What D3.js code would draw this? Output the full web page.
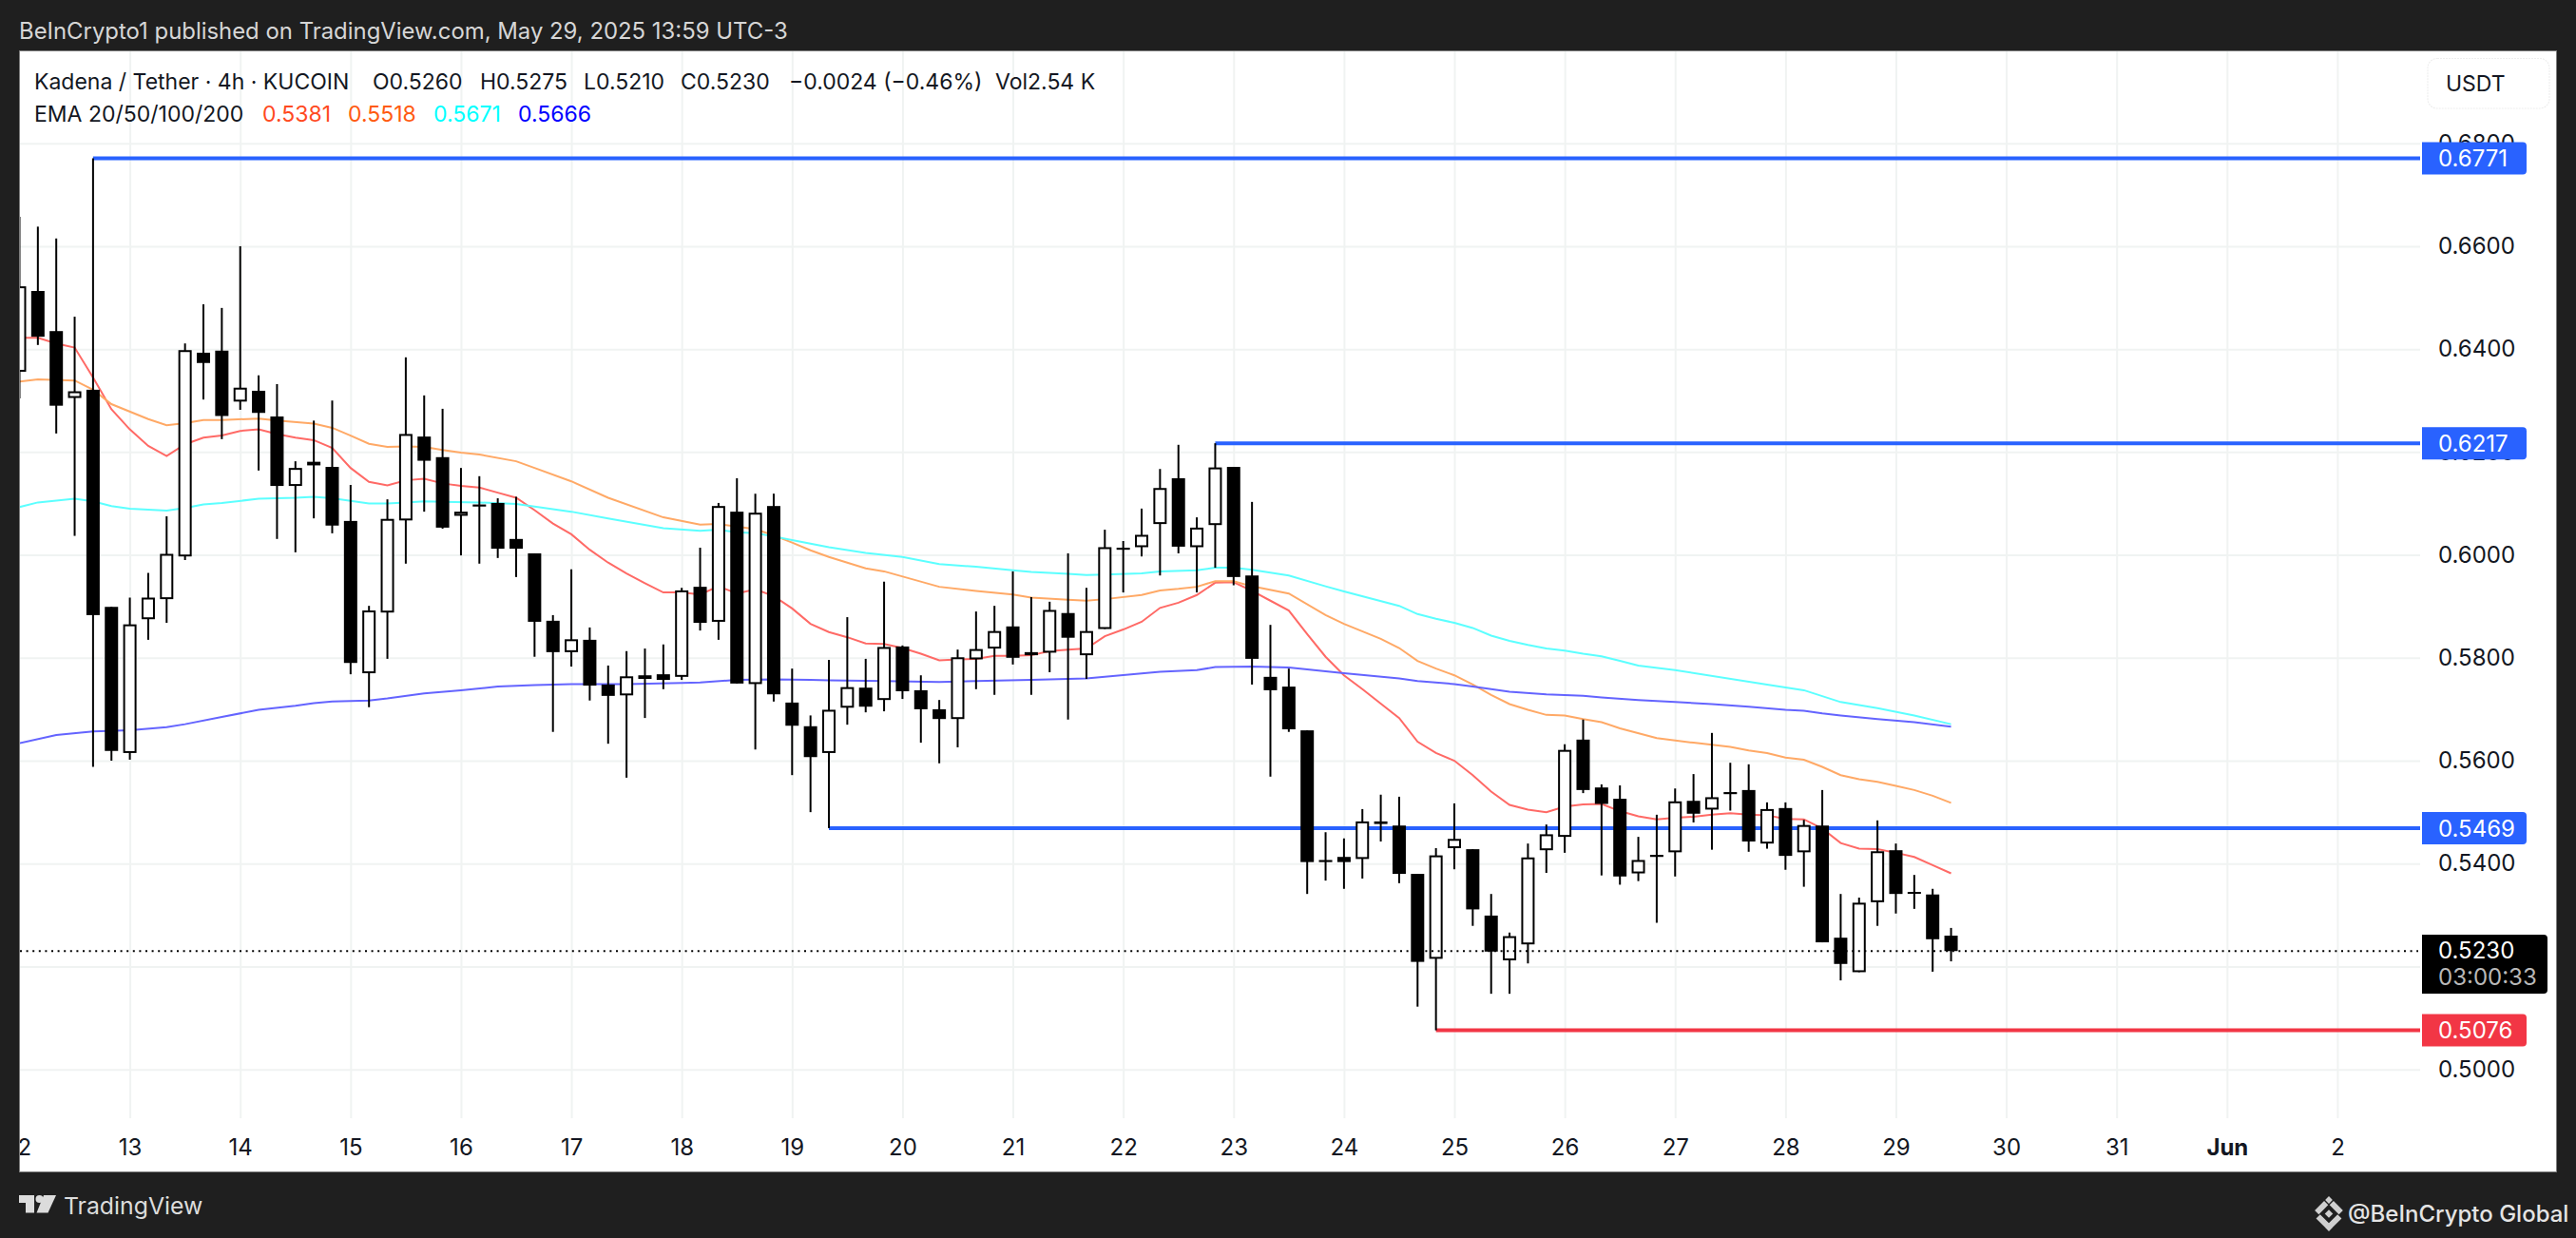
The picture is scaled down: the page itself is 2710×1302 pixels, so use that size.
<!DOCTYPE html>
<html><head><meta charset="utf-8">
<script src="https://cdn.jsdelivr.net/npm/d3@7/dist/d3.min.js"></script>
<style>html,body{margin:0;padding:0;background:#1f1f1f;overflow:hidden}svg{display:block}text{font-family:Inter,"Noto Sans",sans-serif}</style>
</head><body><svg id="c" width="2710" height="1302"></svg>
<script>
// Candles from index -6 (12 May 00:00) to 99; six 4h candles per day
const firstIndex = -6;
const highs = [.6657,.6638,.6615,.6463,.6771,.5899,.5917,.5965,.6075,.6411,.6487,.6480,.6600,.6349,.6332,.6182,.6261,.6300,.6136,.5901,.6108,.6384,
.6310,.6284,.6169,.6153,.6110,.6113,.6003,.5883,.5972,.5859,.5785,.5813,.5818,.5826,.5936,.6014,.6101,.6149,.6119,.6119,.5779,.5688,.5796,
.5879,.5798,.5948,.5824,.5766,.5718,.5816,.5890,.5901,.5968,.5918,.5909,.6003,.5936,.6049,.6027,.6090,.6167,.6214,.6073,.6217,.6171,.6103,.5864,.5779,
.5659,.5461,.5449,.5506,.5534,.5530,.5380,.5430,.5517,.5428,.5341,.5266,.5439,.5476,.5632,.5680,.5554,.5552,.5452,.5495,.5546,.5574,.5654,.5596,.5593,.5519,.5519,.5485,.5543,.5341,.5334,.5484,.5439,.5378,.5351,.5275];
const lows = [.6304,.6408,.6236,.6037,.5588,.5600,.5602,.5835,.5868,.5990,.6302,.6225,.6282,.6164,.6031,.6005,.6071,.6042,.5768,.5704,.5798,.5983,
.6084,.6051,.5999,.5983,.5994,.5957,.5802,.5656,.5783,.5717,.5633,.5567,.5683,.5739,.5757,.5853,.5835,.5750,.5622,.5715,.5572,.5500,.5469,
.5670,.5694,.5696,.5720,.5635,.5595,.5626,.5739,.5728,.5787,.5728,.5772,.5680,.5759,.5856,.5927,.5997,.5960,.6003,.5927,.5975,.5941,.5748,.5569,.5656,
.5341,.5367,.5351,.5371,.5443,.5362,.5122,.5076,.5389,.5279,.5147,.5147,.5206,.5382,.5421,.5537,.5377,.5359,.5366,.5285,.5375,.5480,.5427,.5503,.5423,.5429,.5388,.5355,.5247,.5173,.5189,.5279,.5303,.5312,.5190,.5210];
const bodyTops = [.6522,.6513,.6435,.6318,.6321,.5899,.5865,.5917,.6002,.6398,.6393,.6397,.6325,.6319,.6269,.6169,.6181,.6171,.6066,.5892,.6070,.6235,
.6230,.6190,.6084,.6098,.6101,.6031,.6003,.5872,.5836,.5835,.5748,.5764,.5766,.5768,.5931,.5938,.6095,.6084,.6082,.6095,.5713,.5667,.5699,
.5743,.5742,.5821,.5822,.5737,.5700,.5801,.5817,.5852,.5861,.5811,.5893,.5887,.5852,.6015,.6014,.6039,.6130,.6149,.6053,.6170,.6171,.5960,.5763,.5744,
.5659,.5407,.5413,.5482,.5482,.5474,.5380,.5416,.5448,.5428,.5299,.5259,.5412,.5457,.5621,.5641,.5548,.5526,.5407,.5417,.5521,.5522,.5529,.5539,.5543,.5506,.5508,.5475,.5474,.5256,.5324,.5424,.5426,.5345,.5340,.5260];
const bodyBottoms = [.6356,.6424,.6290,.6305,.5883,.5619,.5615,.5875,.5914,.5997,.6373,.6270,.6298,.6276,.6134,.6134,.6174,.6057,.5790,.5770,.5888,.6067,
.6183,.6053,.6076,.6094,.6012,.6012,.5870,.5811,.5811,.5746,.5726,.5727,.5759,.5757,.5763,.5868,.5870,.5750,.5749,.5729,.5668,.5607,.5615,
.5703,.5705,.5718,.5735,.5700,.5681,.5681,.5797,.5818,.5800,.5805,.5810,.5839,.5805,.5856,.6010,.6015,.6060,.6016,.6015,.6058,.5957,.5798,.5737,.5661,
.5403,.5403,.5403,.5409,.5477,.5380,.5209,.5215,.5430,.5311,.5229,.5212,.5243,.5426,.5452,.5543,.5516,.5375,.5381,.5413,.5422,.5497,.5505,.5535,.5443,.5439,.5415,.5422,.5247,.5205,.5189,.5325,.5341,.5342,.5253,.5230];
// 1 = close above open (hollow), 0 = close below open (filled)
const rising = [1,0,0,1,0,0,1,1,1,1,0,0,1,0,0,1,1,0,0,1,1,1,
0,0,1,0,0,0,0,0,1,0,0,1,0,0,1,0,1,0,1,0,0,0,1,
1,0,1,0,0,0,1,1,1,0,0,1,0,1,1,0,1,1,0,1,1,0,0,0,0,
0,0,0,1,0,0,0,1,1,0,0,1,1,1,1,0,0,0,1,0,1,0,1,0,0,1,0,1,0,0,1,1,0,0,0,0];

// EMA 20 per candle
const ema20 = [.6422,.6422,.6411,.6403,.6345,.6283,.6244,.6212,.6192,.6215,.6228,.6232,.6241,.6244,.6235,.6228,.6223,.6208,.6169,.6142,.6135,.6145,
.6148,.6139,.6134,.6131,.6121,.6111,.6087,.6061,.6040,.6010,.5985,.5964,.5945,.5927,.5927,.5923,.5939,.5925,.5933,.5920,.5896,.5866,.5850,
.5840,.5828,.5827,.5819,.5808,.5795,.5797,.5798,.5804,.5804,.5805,.5813,.5816,.5818,.5842,.5855,.5870,.5897,.5907,.5922,.5946,.5947,.5930,.5911,.5892,
.5846,.5802,.5766,.5739,.5711,.5683,.5637,.5615,.5600,.5572,.5540,.5514,.5505,.5500,.5511,.5515,.5516,.5502,.5492,.5486,.5489,.5491,.5495,.5498,.5495,.5494,.5487,.5486,.5468,.5440,.5429,.5428,.5421,.5413,.5397,.5381];
// Slower EMAs: candle index + value
const ema50Idx = [-6,-5,-3,-2,-1,1,2,3,4,5,7,8,10,11,12,13,14,15,16,17,18,19,21,22,24,26,29,31,32,34,35,36,37,38,40,41,44,46,48,49,51,52,53,55,56,57,58,59,60,61,63,65,66,68,69,70,71,72,73,74,75,76,77,78,79,80,81,83,85,87,88,89,90,91,92,93,94,95,96,97,98,99];
const ema50 = [.6337,.6341,.6339,.6321,.6293,.6264,.6252,.6256,.6262,.6262,.6265,.6261,.6255,.6247,.6232,.6216,.6210,.6211,.6210,.6204,.6199,.6195,.6182,.6169,.6143,.6111,.6073,.6059,.6060,.6050,.6038,.6024,.6009,.5996,.5974,.5968,.5938,.5930,.5923,.5917,.5913,.5911,.5914,.5922,.5931,.5934,.5938,.5949,.5949,.5939,.5925,.5883,.5866,.5837,.5819,.5794,.5779,.5766,.5748,.5728,.5710,.5699,.5689,.5688,.5681,.5675,.5663,.5644,.5635,.5627,.5620,.5615,.5606,.5602,.5588,.5572,.5564,.5559,.5551,.5543,.5532,.5518];
const ema100Idx = [-6,-5,-3,-2,-1,0,2,3,4,5,7,9,10,11,13,14,15,16,17,19,21,24,26,29,31,32,33,34,35,36,37,38,40,42,44,46,48,49,51,52,53,55,56,58,59,60,61,63,65,66,69,70,71,72,73,74,75,76,77,78,79,80,81,82,84,89,91,93,95,97,99];
const ema100 = [.6093,.6102,.6109,.6104,.6095,.6090,.6086,.6091,.6098,.6101,.6109,.6111,.6113,.6110,.6100,.6100,.6102,.6104,.6103,.6102,.6099,.6084,.6071,.6052,.6047,.6049,.6044,.6042,.6036,.6029,.6022,.6015,.6004,.5996,.5982,.5977,.5970,.5967,.5963,.5961,.5962,.5964,.5968,.5970,.5975,.5975,.5971,.5960,.5939,.5929,.5901,.5885,.5876,.5868,.5858,.5843,.5833,.5825,.5818,.5814,.5808,.5803,.5794,.5785,.5776,.5748,.5737,.5714,.5702,.5688,.5671];
const ema200Idx = [-6,-4,-2,0,2,3,5,7,9,10,11,13,14,16,18,20,22,24,27,30,31,33,35,37,38,41,44,46,49,52,56,58,59,61,63,65,66,69,70,72,73,75,77,79,80,82,84,86,88,90,91,92,93,95,97,99];
const ema200 = [.5634,.5650,.5657,.5659,.5665,.5671,.5685,.5699,.5707,.5712,.5715,.5717,.5721,.5731,.5737,.5744,.5747,.5749,.5749,.5751,.5752,.5757,.5758,.5757,.5756,.5755,.5753,.5755,.5757,.5760,.5773,.5776,.5782,.5783,.5781,.5774,.5770,.5760,.5755,.5749,.5744,.5734,.5729,.5726,.5723,.5718,.5714,.5710,.5705,.5699,.5697,.5692,.5688,.5681,.5675,.5666];

const levelPrices = [.6771,.6217,.5469,.5076];
const levelStarts = [-2,59,38,71];
const levelColors = ["#2962ff","#2962ff","#2962ff","#f23645"];
const lastPrice = .5230;
const countdown = "03:00:33";
const priceTicks = [.50,.52,.54,.56,.58,.60,.62,.64,.66,.68];
const dayLabels = ["12","13","14","15","16","17","18","19","20","21","22","23","24","25","26","27","28","29","30","31","Jun","2"];
const dayIdx = dayLabels.map((_,i)=>-6+i*6);
const emaColors = ["#ff6a66","#ffa966","#5cffff","#6464ff"];
const emaLegendColors = ["#ff4a1f","#ff5a10","#00ffff","#0000ff"];
const emaLegendValues = ["0.5381","0.5518","0.5671","0.5666"];
const emaLegendX = [276,366,456,545];
const ohlcText = ["O0.5260","H0.5275","L0.5210","C0.5230","−0.0024 (−0.46%)","Vol2.54 K"];
const ohlcX = [392,505,614,716,830,1047];

const panel = {l:21,t:54,r:2689,b:1232}, paneR=2546, gridB=1176;
const x = d3.scaleLinear().domain([-6,120]).range([20.48,2458.96]);
const y = d3.scaleLinear().domain([.50,.68]).range([1124.7,150.7]);
const svg = d3.select("#c");
svg.append("rect").attr("width",2710).attr("height",1302).attr("fill","#1f1f1f");
svg.append("rect").attr("x",panel.l-.5).attr("y",panel.t-.5).attr("width",panel.r-panel.l+1).attr("height",panel.b-panel.t+1).attr("fill","#fff").attr("stroke","#7d7d7d").attr("stroke-width",1);
const defs = svg.append("defs");
defs.append("clipPath").attr("id","pane").append("rect").attr("x",panel.l).attr("y",panel.t).attr("width",paneR-panel.l).attr("height",gridB-panel.t);
defs.append("clipPath").attr("id","panelClip").append("rect").attr("x",panel.l).attr("y",panel.t).attr("width",panel.r-panel.l).attr("height",panel.b-panel.t);

// grid
const gridC="#f0f3f2";
const gy = svg.append("g").attr("transform",`translate(${paneR},0)`).call(d3.axisLeft(y).tickValues(priceTicks).tickSizeInner(paneR-panel.l).tickSizeOuter(0).tickFormat(""));
gy.select(".domain").remove(); gy.selectAll("line").attr("stroke",gridC).attr("stroke-width",2);
const gx = svg.append("g").attr("clip-path","url(#panelClip)").append("g").attr("transform",`translate(0,${gridB})`).call(d3.axisTop(x).tickValues(dayIdx.slice(1)).tickSizeInner(gridB-panel.t).tickSizeOuter(0).tickFormat(""));
gx.select(".domain").remove(); gx.selectAll("line").attr("stroke",gridC).attr("stroke-width",2);

const plot = svg.append("g").attr("clip-path","url(#pane)");
// level lines sit under the candles
levelPrices.forEach((p,i)=>{
  plot.append("line").attr("x1",x(levelStarts[i])).attr("x2",paneR).attr("y1",y(p)).attr("y2",y(p)).attr("stroke",levelColors[i]).attr("stroke-width",4);
});
// EMAs
const line = d3.line().x(d=>x(d[0])).y(d=>y(d[1]));
const indices = ema20.map((_,i)=>firstIndex+i);
[[indices,ema20],[ema50Idx,ema50],[ema100Idx,ema100],[ema200Idx,ema200]].forEach(([ix,v],i)=>{
  plot.append("path").attr("d",line(ix.map((k,j)=>[k,v[j]]))).attr("fill","none").attr("stroke",emaColors[i]).attr("stroke-width",2);
});
// candles
const rows = highs.map((h,i)=>({k:firstIndex+i,h,l:lows[i],t:bodyTops[i],b:bodyBottoms[i],up:rising[i]}));
const cg = plot.selectAll("g.cd").data(rows).join("g").attr("class","cd");
cg.append("line").attr("x1",d=>x(d.k)).attr("x2",d=>x(d.k)).attr("y1",d=>y(d.h)).attr("y2",d=>y(d.l)).attr("stroke","#000").attr("stroke-width",2);
cg.append("rect")
  .attr("x",d=>x(d.k)-(d.up?6:7)).attr("width",d=>d.up?12:14)
  .attr("y",d=>y(d.t)+(d.up?1:0))
  .attr("height",d=>Math.max(d.up?1:2,y(d.b)-y(d.t)-(d.up?2:0)))
  .attr("fill",d=>d.up?"#fff":"#000").attr("stroke",d=>d.up?"#000":"none").attr("stroke-width",2);
// last price line
plot.append("line").attr("x1",panel.l).attr("x2",paneR-2).attr("y1",y(lastPrice)).attr("y2",y(lastPrice)).attr("stroke","#000").attr("stroke-width",2).attr("stroke-dasharray","2 4.6");

// y axis labels
const ax = svg.append("g").attr("transform",`translate(${paneR},0)`).call(d3.axisRight(y).tickValues(priceTicks).tickSize(0).tickPadding(19).tickFormat(d3.format(".4f")));
ax.select(".domain").remove();
ax.selectAll("text").attr("font-size",24).attr("fill","#131722").style("font-family","Inter");

// x axis labels
const bx = svg.append("g").attr("clip-path","url(#panelClip)").append("g").attr("transform",`translate(0,${gridB})`).call(d3.axisBottom(x).tickValues(dayIdx).tickSize(0).tickPadding(0).tickFormat((d,i)=>dayLabels[i]));
bx.select(".domain").remove();
bx.selectAll("text").attr("font-size",24).attr("fill","#131722").attr("dy",0).attr("y",39).style("font-family","Inter").attr("font-weight",(d,i)=>dayLabels[i]==="Jun"?700:400);

// level labels
function tag(yc,h,w,fill){
  const x0=2548,r=4,t=yc-h/2;
  svg.append("path").attr("d",`M${x0},${t}H${x0+w-r}Q${x0+w},${t} ${x0+w},${t+r}V${t+h-r}Q${x0+w},${t+h} ${x0+w-r},${t+h}H${x0}Z`).attr("fill",fill);
}
levelPrices.forEach((p,i)=>{
  tag(y(p),34,110,levelColors[i]);
  svg.append("text").attr("x",2565).attr("y",y(p)).attr("dy","0.36em").attr("font-size",24).attr("fill","#fff").text(d3.format(".4f")(p));
});
tag(1014,62,132,"#000");
svg.append("text").attr("x",2565).attr("y",999).attr("dy","0.36em").attr("font-size",24).attr("fill","#fff").text(d3.format(".4f")(lastPrice));
svg.append("text").attr("x",2565).attr("y",1027).attr("dy","0.36em").attr("font-size",24).attr("fill","#b8b8b8").text(countdown);

// USDT button
svg.append("rect").attr("x",2554).attr("y",61.5).attr("width",128).attr("height",52.5).attr("rx",10).attr("fill","#fff").attr("stroke","#eeeeee").attr("stroke-width",1.2).attr("stroke-dasharray","2 1");
svg.append("text").attr("x",2573).attr("y",87.5).attr("dy","0.36em").attr("font-size",23).attr("fill","#131722").text("USDT");

// header & legend
svg.append("text").attr("x",20).attr("y",32).attr("dy","0.36em").attr("font-size",23.9).attr("fill","#d6d6d6").text("BeInCrypto1 published on TradingView.com, May 29, 2025 13:59 UTC-3");
svg.append("text").attr("x",36).attr("y",85.5).attr("dy","0.36em").attr("font-size",23).attr("fill","#131722").text("Kadena / Tether · 4h · KUCOIN");
ohlcText.forEach((t,i)=>svg.append("text").attr("x",ohlcX[i]).attr("y",85.5).attr("dy","0.36em").attr("font-size",23).attr("fill","#131722").text(t));
svg.append("text").attr("x",36).attr("y",119.5).attr("dy","0.36em").attr("font-size",23).attr("fill","#131722").text("EMA 20/50/100/200");
emaLegendValues.forEach((t,i)=>svg.append("text").attr("x",emaLegendX[i]).attr("y",119.5).attr("dy","0.36em").attr("font-size",23).attr("fill",emaLegendColors[i]).text(t));

// footer
const logo = svg.append("g").attr("fill","#dcdcdc");
logo.append("path").attr("d","M20,1257H36V1275.5H27V1265H20Z");
logo.append("circle").attr("cx",41.5).attr("cy",1261).attr("r",4);
logo.append("path").attr("d","M46,1257H59L50.5,1275.5H38.5Z");
svg.append("text").attr("x",67).attr("y",1268).attr("dy","0.36em").attr("font-size",24.8).attr("font-weight",400).attr("fill","#dcdcdc").text("TradingView");
const bi = svg.append("g").attr("transform","translate(2450,1276.5) rotate(45)").attr("fill","#cfcfcf");
[[-3,-3,6,6],[-13,-13,5.5,5.5],[7.5,7.5,5.5,5.5]].forEach(r=>bi.append("rect").attr("x",r[0]).attr("y",r[1]).attr("width",r[2]).attr("height",r[3]));
bi.append("path").attr("d","M-6,-13H8V-7H-6Z M7,-6H13V8H7Z");
bi.append("path").attr("d","M-13,-6H-7V8H-13Z M-6,7H8V13H-6Z");
svg.append("text").attr("x",2470).attr("y",1276.5).attr("dy","0.36em").attr("font-size",24).attr("font-weight",500).attr("fill","#e4e4e4").text("@BeInCrypto Global");
</script></body></html>
